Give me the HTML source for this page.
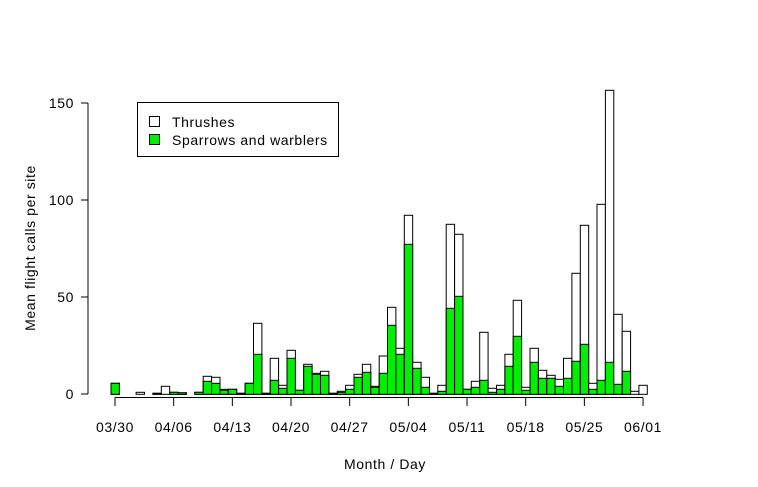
<!DOCTYPE html>
<html><head><meta charset="utf-8"><style>
html,body{margin:0;padding:0;background:#fff}
svg{display:block;font-family:"Liberation Sans",Arial,sans-serif}
</style></head><body>
<svg id="s" width="758" height="487" viewBox="0 0 758 487" xmlns="http://www.w3.org/2000/svg">
<g id="bars" stroke="#000" stroke-width="1"></g>
<g stroke="#000" stroke-width="1" fill="none">
<line x1="88" y1="394" x2="88" y2="103"/>
<line x1="88" y1="394" x2="81" y2="394"/>
<line x1="88" y1="297" x2="81" y2="297"/>
<line x1="88" y1="200" x2="81" y2="200"/>
<line x1="88" y1="103" x2="81" y2="103"/>
<line x1="115" y1="397.5" x2="643" y2="397.5"/>
<g id="xt"></g>
<rect x="137.5" y="102.5" width="201" height="54" fill="#fff"/>
<rect x="149.5" y="116.5" width="10" height="10" fill="#fff"/>
<rect x="149.5" y="134.5" width="10" height="10" fill="#00ee00"/>
</g>
<g font-size="14" fill="#000" letter-spacing="0.6">
<text x="74" y="399" text-anchor="end">0</text>
<text x="74" y="302" text-anchor="end">50</text>
<text x="74" y="205" text-anchor="end">100</text>
<text x="74" y="108" text-anchor="end">150</text>
<text x="172" y="127">Thrushes</text>
<text x="172" y="145">Sparrows and warblers</text>
<text x="385" y="469" text-anchor="middle">Month / Day</text>
<text transform="translate(35,248) rotate(-90)" text-anchor="middle">Mean flight calls per site</text>
<g id="xl" text-anchor="middle"></g>
</g>
</svg>
<script>
var B=394.3;
var d=[[383.3,383.3],[B,B],[B,B],[392.3,B],[B,B],[393.3,393.3],[386.3,B],[392.3,392.3],[392.8,392.8],[B,B],
[392.3,392.3],[376.3,381.3],[377.3,383.3],[389.3,390.3],[389.3,389.3],[393.3,393.3],[383.3,383.3],[323.3,354.3],[393.3,393.3],[358.3,380.3],
[385.3,388.3],[350.3,358.3],[390.3,390.3],[364.3,366.3],[373.3,374.3],[371.3,375.3],[393.3,393.3],[391.3,392.3],[385.3,389.3],[374.3,377.3],
[364.3,372.3],[386.3,387.3],[356,373.3],[307.3,325.3],[348.3,354.3],[215.3,244.3],[362.3,368.3],[377.3,387.3],[393.3,393.3],[385.3,391.3],
[224.3,308.3],[234.3,296.3],[389.3,389.3],[381.3,387.3],[332.3,380.3],[388.3,392.3],[385.3,389.3],[354.3,366.3],[300.3,336.3],[387.3,390.3],
[348.3,362.3],[370.3,378.3],[375.3,378.3],[379.3,386.3],[358.3,378.3],[273.3,361.3],[225.3,344.3],[383.3,389.3],[204.3,380.3],[90.3,362.3],
[314.3,384.3],[331.3,371.3],[391.3,B],[385.3,B]];
var g=document.getElementById('bars'),h='';
for(var i=0;i<d.length;i++){var x=111+8.38*i,t=d[i][0],gr=d[i][1];
if(t<B-0.2)h+='<rect x="'+x.toFixed(1)+'" y="'+t+'" width="8.38" height="'+(B-t).toFixed(1)+'" fill="#fff"/>';
if(gr<B-0.2)h+='<rect x="'+x.toFixed(1)+'" y="'+gr+'" width="8.38" height="'+(B-gr).toFixed(1)+'" fill="#00ee00"/>';}
g.innerHTML=h;
var L=['03/30','04/06','04/13','04/20','04/27','05/04','05/11','05/18','05/25','06/01'],a='',b='';
for(var j=0;j<10;j++){var xx=115+58.67*j;a+='<line x1="'+xx+'" y1="397.5" x2="'+xx+'" y2="406"/>';b+='<text x="'+xx+'" y="432">'+L[j]+'</text>';}
document.getElementById('xt').innerHTML=a;document.getElementById('xl').innerHTML=b;
</script>
</body></html>
